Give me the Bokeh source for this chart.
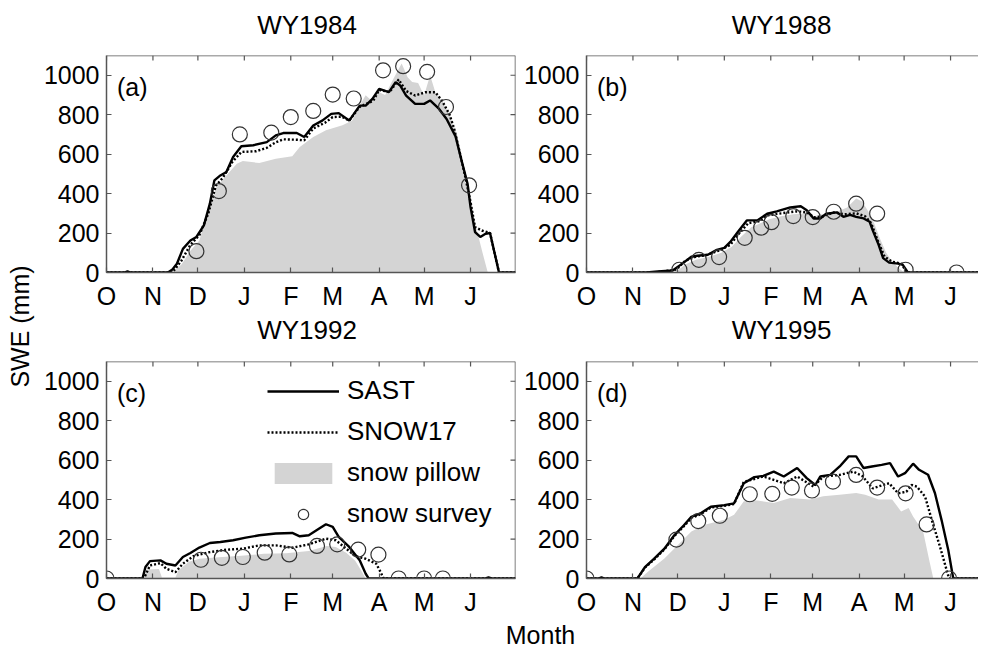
import math
from bokeh.plotting import figure
from bokeh.models import (Range1d, LinearAxis, FixedTicker, Label, Legend,
                          LegendItem, Span)
from bokeh.layouts import row, column
from bokeh.embed import file_html
from bokeh.resources import INLINE

FONT = "Liberation Sans"

MONTH_TICKS = [0, 31, 61, 92, 123, 151, 182, 212, 243]
MONTH_LABELS = ["O", "N", "D", "J", "F", "M", "A", "M", "J"]
SWE_TICKS = [0, 200, 400, 600, 800, 1000]
PANEL_TITLES = ["WY1984", "WY1988", "WY1992", "WY1995"]
PANEL_TAGS = ["(a)", "(b)", "(c)", "(d)"]
SERIES_NAMES = ["SAST", "SNOW17", "snow pillow", "snow survey"]

# ---- WY1984 (a) ----
A_SAST_DAY = [0, 12, 14, 16, 41, 44, 47, 51, 56, 60, 65, 69, 72, 76, 80, 84.5, 90, 98, 107, 113, 118, 127, 132,
              138, 144, 150, 155, 162, 169, 173, 177.5, 182, 188.5, 193, 196, 200, 206, 212, 216, 222, 227, 233,
              237, 241, 243, 246, 249.5, 253, 256, 259, 262, 273]
A_SAST_SWE = [0, 0, 6, 0, 0, 15, 44, 120, 162, 180, 239, 349, 467, 492, 509, 585, 640, 645, 661, 695, 707, 707, 687,
              745, 770, 804, 808, 770, 846, 846, 880, 931, 914, 965, 948, 897, 855, 855, 872, 829, 778, 690,
              568, 450, 332, 205, 180, 196, 200, 100, 0, 0]
A_S17_DAY = [0, 44, 50, 56, 62, 68, 73, 78, 84, 90, 100, 107, 113, 118, 127, 132, 138, 146, 151, 157, 162, 169, 178,
             182, 189, 195, 200, 206, 213, 219.5, 224, 229, 232, 236, 239.5, 243, 246, 250.5, 256, 259, 262, 273]
A_S17_SWE = [0, 0, 60, 140, 190, 300, 440, 484, 560, 611, 615, 632, 660, 675, 673, 670, 730, 760, 788, 790, 770, 840,
             870, 925, 915, 978, 920, 897, 914, 914, 870, 800, 730, 602, 484, 357, 230, 213, 200, 100, 0, 0]
A_PIL_DAY = [0, 44, 50, 56, 62, 67, 73.5, 80, 87, 91, 102, 113, 124, 129, 138, 146.5, 157.5, 164, 169, 173, 177, 182,
             186, 191, 197, 201, 204, 208, 212, 216, 219.5, 224, 229, 234, 239.5, 243, 247, 251, 254.5, 273]
A_PIL_SWE = [0, 0, 40, 110, 162, 298, 433, 492, 551, 565, 555, 577, 589, 636, 687, 721, 746, 770, 846, 898, 870, 914,
             900, 975, 1059, 990, 966, 960, 897, 1000, 914, 870, 800, 700, 467, 330, 220, 100, 0, 0]
A_SUR_DAY = [60, 75, 89, 110, 123, 138, 151, 165, 184.6, 198, 214, 226.6, 242]
A_SUR_SWE = [108, 413, 700, 709, 788, 819, 902, 882, 1025, 1046, 1017, 839, 442]

# ---- WY1988 (b) ----
B_SAST_DAY = [0, 40, 47.6, 57.5, 63, 70, 74, 81, 87, 92, 96, 101, 107, 114, 120.6, 127, 136, 143, 147, 151.6, 156,
              160, 167, 171.5, 176, 180, 185, 189, 191, 195, 198, 202, 208, 211, 214.5, 262]
B_SAST_SWE = [0, 0, 5, 10, 40, 80, 85, 90, 115, 125, 155, 205, 264, 264, 298, 310, 330, 336, 316, 274, 274,
              298, 305, 282, 292, 282, 274, 257, 215, 140, 73, 50, 45, 40, 0, 0]
B_S17_DAY = [0, 45, 60, 66, 73, 80, 88, 96, 101, 108, 115, 121, 130, 140, 147, 152, 158, 165, 172, 180, 186, 190,
             195, 199, 204, 210, 214, 262]
B_S17_SWE = [0, 0, 15, 60, 80, 88, 110, 140, 190, 250, 260, 290, 300, 310, 305, 280, 285, 305, 295, 300, 285, 250,
             150, 80, 55, 45, 0, 0]
B_PIL_DAY = [0, 55, 60, 66, 73, 82, 90, 97, 103, 110, 116, 122, 130, 138, 147, 152, 160, 168, 174, 180, 184, 188,
             192, 196, 200, 204, 208, 212, 262]
B_PIL_SWE = [0, 0, 5, 40, 65, 80, 100, 130, 180, 230, 250, 270, 285, 295, 300, 285, 300, 310, 330, 375, 360, 310,
             250, 170, 100, 55, 25, 0, 0]
B_SUR_DAY = [62, 75, 88.5, 105.6, 116.6, 123.5, 138, 151, 165, 180, 194, 213, 247]
B_SUR_SWE = [14, 64, 78, 176, 227, 255, 286, 281, 308, 349, 298, 14, 0]

# ---- WY1992 (c) ----
C_SAST_DAY = [0, 24, 26, 29, 36, 40, 46, 51, 56, 62, 69, 76, 84.5, 93, 102, 113, 124, 129, 135, 142, 146.5, 151,
              155, 162, 169, 173, 175, 253, 255, 257, 273]
C_SAST_SWE = [0, 0, 58, 88, 92, 75, 66, 109, 129, 157, 180, 185, 194, 207, 219, 228, 231, 214, 219, 253, 275, 262,
              211, 160, 92, 24, 0, 0, 5, 0, 0]
C_S17_DAY = [0, 25, 29, 36, 40, 46, 51, 58, 69, 80, 91, 102, 113, 124, 135, 146.5, 153, 160, 166.5, 173, 180, 183,
             185, 273]
C_S17_SWE = [0, 0, 66, 78, 49, 32, 75, 113, 134, 146, 151, 168, 168, 156, 173, 202, 194, 151, 112, 100, 75, 32,
             0, 0]
C_PIL_DAY = [0, 25, 26, 35, 37, 46, 48, 55, 62, 75, 90, 105, 120, 135, 147, 153, 160, 166, 170, 173, 273]
C_PIL_SWE = [0, 0, 45, 48, 5, 5, 40, 85, 100, 108, 115, 125, 128, 140, 165, 160, 130, 90, 40, 0, 0]
C_SUR_DAY = [0, 63, 77, 91, 105.6, 122, 140.5, 154, 168, 181.5, 195, 212, 224.5]
C_SUR_SWE = [0, 95, 105, 109, 131, 122, 165, 173, 146, 121, 0, 0, 0]

# ---- WY1995 (d) ----
D_SAST_DAY = [0, 8, 10, 12, 34, 39, 45, 52, 58.6, 65, 70, 76, 83, 92, 98.5, 105, 112, 118, 125, 131.7, 140.6, 147,
              152.7, 156, 162.7, 169, 175, 180, 185, 190.5, 197, 202.6, 208, 212.6, 218, 222, 228, 232.6, 237,
              241.5, 244.8, 262]
D_SAST_SWE = [0, 0, 6, 0, 0, 58, 100, 151, 219, 270, 313, 330, 364, 372, 381, 483, 514, 520, 542, 517, 560, 509,
              474, 517, 525, 568, 619, 619, 560, 568, 576, 585, 517, 534, 582, 551, 526, 432, 296,
              143, 0, 0]
D_S17_DAY = [0, 34, 39, 45, 52, 58.6, 65, 70, 76, 83, 92, 98.5, 105, 118, 125, 131.7, 140.6, 151.6, 158, 169, 178,
             184, 191, 198, 202, 208, 213.5, 217, 220.5, 226, 230.5, 236, 240.4, 242, 262]
D_S17_SWE = [0, 0, 55, 95, 148, 215, 265, 308, 325, 360, 368, 378, 490, 517, 500, 483, 517, 466, 517, 525, 542,
             520, 457, 474, 483, 432, 440, 474, 466, 415, 296, 160, 42, 0, 0]
D_PIL_DAY = [0, 36, 41, 52, 61, 70, 79, 92, 98.5, 105, 114, 125, 136, 149, 158, 169, 180, 186, 195, 204, 210, 215,
             218, 224.7, 229, 231.5, 262]
D_PIL_SWE = [0, 0, 34, 102, 170, 238, 272, 298, 323, 391, 395, 383, 408, 400, 417, 425, 434, 425, 400, 400, 340,
             357, 314, 238, 85, 0, 0]
D_SUR_DAY = [0, 60, 74.6, 89, 109, 124, 137, 150.5, 164.5, 180, 194, 213, 227, 242]
D_SUR_SWE = [0, 197, 291, 318, 427, 429, 461, 446, 491, 525, 461, 432, 274, 0]

AXIS_COLOR = "#555555"
PILLOW_COLOR = "#d4d4d4"
FRAME_W = 409
FRAME_W_RIGHT = 392
FRAME_H = 217
X_FULL = 273
Y_TOP = 1100
TICK_PX = 5

LEFT_MBL, LEFT_MBR = 62, 5
RIGHT_MBL, RIGHT_MBR = 64, 0
LEFT_W = LEFT_MBL + FRAME_W + LEFT_MBR
RIGHT_W = RIGHT_MBL + FRAME_W_RIGHT + RIGHT_MBR


def blank_fig(w, h):
    f = figure(frame_width=w, frame_height=h, x_range=Range1d(0, w), y_range=Range1d(0, h),
               x_axis_location=None, y_axis_location=None, output_backend="svg",
               toolbar_location=None, min_border=0, outline_line_color=None)
    f.xgrid.grid_line_color = None
    f.ygrid.grid_line_color = None
    return f


def text_fig(w, h, text, x, y, angle=0.0, size="26px"):
    f = blank_fig(w, h)
    f.add_layout(Label(x=x, y=y, text=text, angle=angle, text_font=FONT, text_font_size=size,
                       text_align="center", text_baseline="middle", text_color="black"))
    return f


def style_axis(ax, standoff):
    ax.axis_line_color = AXIS_COLOR
    ax.axis_line_width = 1.5
    ax.major_tick_line_color = AXIS_COLOR
    ax.major_tick_line_width = 1.2
    ax.major_tick_in = TICK_PX
    ax.major_tick_out = 0
    ax.minor_tick_line_color = None
    ax.major_label_text_font = FONT
    ax.major_label_text_color = "black"
    ax.major_label_text_font_size = "25px"
    ax.major_label_standoff = standoff


def make_panel(i, sast, s17, pil, sur, x_end, frame_w, right_axis, mbl, mbr, mbt, mbb, legend=False):
    p = figure(frame_width=frame_w, frame_height=FRAME_H,
               x_range=Range1d(0, x_end), y_range=Range1d(0, Y_TOP),
               x_axis_location=None, y_axis_location=None,
               output_backend="svg", toolbar_location=None,
               min_border_left=mbl, min_border_right=mbr,
               min_border_top=mbt, min_border_bottom=mbb,
               outline_line_color=None, background_fill_color="white",
               border_fill_color="white")
    p.xgrid.grid_line_color = None
    p.ygrid.grid_line_color = None

    overrides = {t: lab for t, lab in zip(MONTH_TICKS, MONTH_LABELS)}
    bottom = LinearAxis(ticker=FixedTicker(ticks=MONTH_TICKS), major_label_overrides=overrides)
    style_axis(bottom, 9)
    p.add_layout(bottom, "below")
    left = LinearAxis(ticker=FixedTicker(ticks=SWE_TICKS))
    style_axis(left, 7)
    p.add_layout(left, "left")

    # top frame line with inward month ticks
    p.add_layout(Span(location=Y_TOP, dimension="width", line_color=AXIS_COLOR, line_width=1.5))
    tick_dy = TICK_PX * Y_TOP / FRAME_H
    p.segment(x0=MONTH_TICKS, y0=[Y_TOP] * len(MONTH_TICKS), x1=MONTH_TICKS,
              y1=[Y_TOP - tick_dy] * len(MONTH_TICKS), line_color=AXIS_COLOR, line_width=1.2)
    if right_axis:
        p.add_layout(Span(location=x_end, dimension="height", line_color=AXIS_COLOR, line_width=1.5))
        tick_dx = TICK_PX * x_end / frame_w
        p.segment(x0=[x_end] * len(SWE_TICKS), y0=SWE_TICKS, x1=[x_end - tick_dx] * len(SWE_TICKS),
                  y1=SWE_TICKS, line_color=AXIS_COLOR, line_width=1.2)

    r_pil = p.varea(x=pil[0], y1=[0] * len(pil[1]), y2=pil[1], fill_color=PILLOW_COLOR)
    r_s17 = p.line(s17[0], s17[1], line_color="black", line_width=2.4, line_dash="2 2")
    r_sast = p.line(sast[0], sast[1], line_color="black", line_width=2.4)
    r_sur = p.scatter(sur[0], sur[1], marker="circle", size=15, fill_color=None,
                      line_color="#333333", line_width=1.2)

    p.add_layout(Label(x=7, y=940, text=PANEL_TAGS[i], text_font=FONT, text_font_size="25px",
                       text_baseline="middle", text_align="left", text_color="black"))

    if legend:
        leg = Legend(items=[
            LegendItem(label=SERIES_NAMES[0], renderers=[r_sast]),
            LegendItem(label=SERIES_NAMES[1], renderers=[r_s17]),
            LegendItem(label=SERIES_NAMES[2], renderers=[r_pil]),
            LegendItem(label=SERIES_NAMES[3], renderers=[r_sur]),
        ], location=(161, 49))
        leg.glyph_width = 72
        leg.glyph_height = 26
        leg.label_height = 26
        leg.spacing = 10
        leg.padding = 0
        leg.margin = 0
        leg.label_standoff = 8
        leg.label_text_font = FONT
        leg.label_text_font_size = "26px"
        leg.label_text_color = "black"
        leg.border_line_color = None
        leg.background_fill_alpha = 0
        p.add_layout(leg, "center")
    return p


X_RIGHT_END = X_FULL * FRAME_W_RIGHT / FRAME_W

pa = make_panel(0, (A_SAST_DAY, A_SAST_SWE), (A_S17_DAY, A_S17_SWE), (A_PIL_DAY, A_PIL_SWE),
                (A_SUR_DAY, A_SUR_SWE), X_FULL, FRAME_W, True, LEFT_MBL, LEFT_MBR, 5, 41)
pb = make_panel(1, (B_SAST_DAY, B_SAST_SWE), (B_S17_DAY, B_S17_SWE), (B_PIL_DAY, B_PIL_SWE),
                (B_SUR_DAY, B_SUR_SWE), X_RIGHT_END, FRAME_W_RIGHT, False, RIGHT_MBL, RIGHT_MBR, 5, 41)
pc = make_panel(2, (C_SAST_DAY, C_SAST_SWE), (C_S17_DAY, C_S17_SWE), (C_PIL_DAY, C_PIL_SWE),
                (C_SUR_DAY, C_SUR_SWE), X_FULL, FRAME_W, True, LEFT_MBL, LEFT_MBR, 5, 39, legend=True)
pd_ = make_panel(3, (D_SAST_DAY, D_SAST_SWE), (D_S17_DAY, D_S17_SWE), (D_PIL_DAY, D_PIL_SWE),
                 (D_SUR_DAY, D_SUR_SWE), X_RIGHT_END, FRAME_W_RIGHT, False, RIGHT_MBL, RIGHT_MBR, 5, 39)

# title strips above each row of panels
T1_H, T2_H = 50, 43
ta = text_fig(LEFT_W, T1_H, PANEL_TITLES[0], LEFT_MBL + FRAME_W / 2, T1_H - 24)
tb = text_fig(RIGHT_W, T1_H, PANEL_TITLES[1], 265, T1_H - 24)
tc = text_fig(LEFT_W, T2_H, PANEL_TITLES[2], LEFT_MBL + FRAME_W / 2, T2_H - 16)
td = text_fig(RIGHT_W, T2_H, PANEL_TITLES[3], 265, T2_H - 16)

TOTAL_H = 650
YLAB_W = 40
MLAB_H = 33
ylab = text_fig(YLAB_W, TOTAL_H, "SWE (mm)", 19, 324, angle=math.pi / 2, size="25px")
mlab = text_fig(LEFT_W + RIGHT_W, MLAB_H, "Month", 540 - YLAB_W, 17, size="25px")

layout = row(ylab, column(row(ta, tb), row(pa, pb), row(tc, td), row(pc, pd_), mlab))

open("out.html", "w").write(file_html(layout, INLINE))
